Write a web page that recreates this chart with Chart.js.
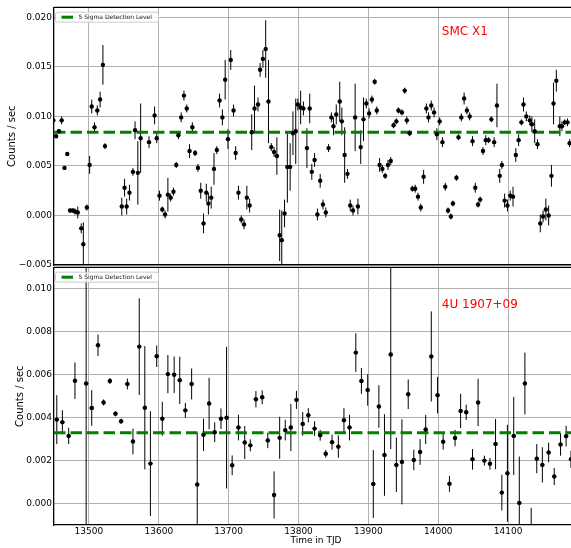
<!DOCTYPE html>
<html>
<head>
<meta charset="utf-8">
<script src="https://cdn.jsdelivr.net/npm/chart.js@4/dist/chart.umd.min.js"></script>
<style>
  html, body { margin: 0; padding: 0; background: #fff; overflow: hidden; }
  #wrap { position: relative; width: 571px; height: 548px; overflow: hidden; }
  canvas { position: absolute; left: 0; }
  #topChart { top: 0; }
  #botChart { top: 260px; }
</style>
</head>
<body>
<div id="wrap">
  <canvas id="topChart" width="600" height="280"></canvas>
  <canvas id="botChart" width="600" height="288"></canvas>
</div>
<script>
// --- データ ---
const xTicks = [13500, 13600, 13700, 13800, 13900, 14000, 14100];
const topYTicks = [-0.005, 0.000, 0.005, 0.010, 0.015, 0.020];
const botYTicks = [0.000, 0.002, 0.004, 0.006, 0.008, 0.010];

const topName = 'SMC X1';
const botName = '4U 1907+09';
const legendLabel = '5 Sigma Detection Level';
const topLevel = 0.0084;
const botLevel = 0.0033;

// SMC X1
const topTime = [13449,13453,13457,13461,13465,13469,13473,13477,13480,13484,13489,13492,13497,13501,13504,13508,13512,13516,13520,13523,
  13547,13551,13554,13558,13563,13566,13570,13574,13586,13594,13597,13601,13605,13609,13613,13617,13621,13625,13628,13632,
  13636,13640,13644,13648,13652,13656,13660,13664,13668,13671,13675,13679,13683,13687,13691,13695,13699,13703,13707,13710,
  13714,13718,13722,13726,13730,13733,13737,13742,13745,13749,13753,13757,13761,13765,13769,13773,13776,13780,13784,13788,
  13792,13796,13799,13803,13807,13812,13816,13819,13823,13827,13831,13835,13839,13843,13847,13850,13854,13859,13862,13866,
  13870,13874,13878,13881,13885,13889,13893,13897,13901,13905,13909,13912,13916,13920,13924,13928,13932,13936,13940,13943,
  13948,13952,13955,13959,13963,13967,13971,13975,13979,13983,13986,13990,13994,13998,14002,14006,14010,14014,14018,14021,
  14026,14029,14033,14037,14041,14045,14049,14053,14057,14060,14064,14068,14072,14076,14080,14084,14088,14091,14095,14099,
  14103,14107,14111,14115,14119,14122,14126,14131,14134,14138,14142,14146,14150,14154,14158,14162,14165,14169,14174,14177,
  14181,14185,14188];
const topRate = [0.0096,0.0080,0.0085,0.0096,0.0048,0.0062,0.0005,0.0005,0.0004,0.0003,-0.0013,-0.0029,0.0008,0.0051,0.0110,0.0089,0.0106,0.0117,0.0152,0.0070,
  0.0009,0.0028,0.0009,0.0023,0.0044,0.0086,0.0043,0.0078,0.0074,0.0101,0.0078,0.0020,0.0006,0.0001,0.0021,0.0018,0.0024,0.0051,0.0081,0.0099,
  0.0121,0.0108,0.0065,0.0089,0.0063,0.0048,0.0025,-0.0008,0.0023,0.0012,0.0018,0.0047,0.0066,0.0116,0.0099,0.0137,0.0077,0.0157,0.0106,0.0063,
  0.0023,-0.0004,-0.0009,0.0018,0.0010,0.0084,0.0108,0.0112,0.0147,0.0158,0.0168,0.0115,0.0069,0.0064,0.0060,-0.0020,-0.0025,0.0002,0.0049,0.0049,
  0.0083,0.0085,0.0112,0.0109,0.0108,0.0068,0.0108,0.0044,0.0056,0.0001,0.0035,0.0011,0.0003,0.0068,0.0099,0.0090,0.0102,0.0115,0.0095,0.0061,
  0.0042,0.0010,0.0005,0.0099,0.0009,0.0069,0.0097,0.0113,0.0103,0.0117,0.0135,0.0106,0.0051,0.0047,0.0040,0.0051,0.0055,0.0091,0.0095,0.0106,
  0.0104,0.0126,0.0096,0.0083,0.0027,0.0027,0.0019,0.0008,0.0039,0.0108,0.0099,0.0111,0.0104,0.0082,0.0095,0.0074,0.0029,0.0005,-0.0001,0.0012,
  0.0038,0.0079,0.0099,0.0118,0.0106,0.0100,0.0075,0.0028,0.0011,0.0016,0.0065,0.0076,0.0076,0.0097,0.0074,0.0111,0.0040,0.0051,0.0015,0.0010,
  0.0020,0.0019,0.0061,0.0076,0.0094,0.0112,0.0100,0.0096,0.0092,0.0085,0.0072,-0.0008,-0.0001,0.0006,0.0000,0.0040,0.0113,0.0136,0.0090,0.0090,
  0.0094,0.0094,0.0073];
const topErr = [0.0003,0.0002,0.0002,0.0004,0.0002,0.0002,0.0002,0.0002,0.0003,0.0006,0.0005,0.0022,0.0003,0.0009,0.0007,0.0005,0.0005,0.0008,0.0020,0.0003,
  0.0009,0.0009,0.0008,0.0008,0.0004,0.0009,0.0032,0.0035,0.0006,0.0009,0.0005,0.0005,0.0003,0.0004,0.0017,0.0004,0.0004,0.0003,0.0004,0.0005,
  0.0005,0.0004,0.0007,0.0005,0.0003,0.0004,0.0008,0.0010,0.0009,0.0011,0.0011,0.0016,0.0004,0.0007,0.0008,0.0020,0.0010,0.0010,0.0006,0.0007,
  0.0007,0.0004,0.0005,0.0012,0.0007,0.0018,0.0023,0.0007,0.0007,0.0009,0.0029,0.0042,0.0004,0.0005,0.0019,0.0026,0.0030,0.0014,0.0036,0.0024,
  0.0022,0.0033,0.0006,0.0017,0.0007,0.0020,0.0015,0.0008,0.0007,0.0006,0.0007,0.0005,0.0005,0.0004,0.0005,0.0009,0.0010,0.0020,0.0014,0.0028,
  0.0005,0.0006,0.0005,0.0034,0.0008,0.0017,0.0022,0.0005,0.0005,0.0004,0.0003,0.0004,0.0007,0.0004,0.0003,0.0005,0.0004,0.0003,0.0003,0.0003,
  0.0003,0.0003,0.0004,0.0003,0.0003,0.0004,0.0004,0.0004,0.0007,0.0005,0.0005,0.0005,0.0005,0.0006,0.0004,0.0005,0.0004,0.0003,0.0003,0.0003,
  0.0003,0.0003,0.0004,0.0006,0.0004,0.0004,0.0005,0.0005,0.0003,0.0003,0.0004,0.0005,0.0003,0.0003,0.0005,0.0022,0.0007,0.0004,0.0007,0.0006,
  0.0005,0.0010,0.0007,0.0006,0.0003,0.0007,0.0005,0.0005,0.0008,0.0012,0.0005,0.0009,0.0006,0.0011,0.0010,0.0011,0.0021,0.0011,0.0010,0.0005,
  0.0003,0.0004,0.0004];

// 4U 1907+09
const botTime = [13454,13462,13471,13480,13496,13504,13513,13521,13530,13538,13546,13555,13563,13572,13580,13588,13597,13605,13613,13622,
  13630,13638,13647,13655,13664,13672,13680,13689,13697,13705,13714,13723,13731,13739,13748,13756,13765,13773,13781,13789,
  13797,13806,13814,13823,13831,13839,13848,13857,13865,13873,13882,13890,13899,13907,13915,13923,13932,13940,13948,13957,
  13965,13974,13982,13990,13999,14007,14016,14024,14032,14040,14049,14057,14066,14074,14082,14091,14099,14108,14116,14124,
  14133,14141,14149,14158,14166,14175,14183,14190];
const botRate = [0.00391,0.00379,0.00315,0.00572,0.00559,0.00445,0.00737,0.00471,0.00571,0.00418,0.00383,0.00557,0.00289,0.00731,0.00446,0.00186,0.00686,0.00395,0.00603,0.00600,
  0.00574,0.00434,0.00557,0.00089,0.00320,0.00466,0.00332,0.00395,0.00400,0.00178,0.00354,0.00284,0.00271,0.00486,0.00495,0.00294,0.00040,0.00306,0.00342,0.00354,
  0.00483,0.00371,0.00411,0.00349,0.00318,0.00232,0.00286,0.00265,0.00388,0.00354,0.00703,0.00571,0.00529,0.00091,0.00452,0.00226,0.00694,0.00180,0.00194,0.00509,
  0.00203,0.00240,0.00345,0.00685,0.00505,0.00288,0.00092,0.00305,0.00431,0.00425,0.00206,0.00471,0.00200,0.00185,0.00277,0.00051,0.00141,0.00315,0.00003,0.00559,
  -0.00220,0.00209,0.00180,0.00238,0.00126,0.00275,0.00314,0.00206];
const botErr = [0.00114,0.00056,0.00038,0.00085,0.00750,0.00083,0.00050,0.00014,0.00014,0.00012,0.00012,0.00025,0.00060,0.00225,0.00287,0.00244,0.00050,0.00079,0.00089,0.00085,
  0.00110,0.00035,0.00072,0.00240,0.00075,0.00120,0.00046,0.00048,0.00330,0.00046,0.00060,0.00077,0.00028,0.00038,0.00032,0.00036,0.00110,0.00098,0.00048,0.00110,
  0.00042,0.00055,0.00033,0.00034,0.00025,0.00018,0.00035,0.00052,0.00056,0.00060,0.00090,0.00060,0.00073,0.00158,0.00099,0.00190,0.00440,0.00127,0.00198,0.00069,
  0.00048,0.00060,0.00068,0.00210,0.00085,0.00037,0.00037,0.00038,0.00080,0.00036,0.00048,0.00110,0.00023,0.00027,0.00117,0.00083,0.00226,0.00182,0.00216,0.00144,
  0.00200,0.00068,0.00082,0.00046,0.00040,0.00052,0.00048,0.00040];

const FONT = 'DejaVu Sans';
const green = '#008000';
const gridColor = '#b0b0b0';

function fmtY(v) {
  if (Math.abs(v) < 1e-12) v = 0;
  return v.toFixed(3).replace('-', '\u2212');
}

// エラーバー・枠・凡例・ラベル
const extras = {
  id: 'extras',
  beforeDatasetsDraw(chart) {
    const { ctx, chartArea: a, scales: { x, y } } = chart;
    ctx.save();
    ctx.beginPath();
    ctx.rect(a.left, a.top, a.right - a.left, a.bottom - a.top);
    ctx.clip();
    ctx.strokeStyle = '#000';
    ctx.lineWidth = 1;
    chart.data.datasets.forEach(ds => {
      if (!ds.err) return;
      ds.data.forEach((p, i) => {
        const px = x.getPixelForValue(p.x);
        const py = y.getPixelForValue(p.y);
        ctx.beginPath();
        ctx.moveTo(px, y.getPixelForValue(p.y - ds.err[i]));
        ctx.lineTo(px, y.getPixelForValue(p.y + ds.err[i]));
        ctx.moveTo(x.getPixelForValue(p.x - ds.xerr), py);
        ctx.lineTo(x.getPixelForValue(p.x + ds.xerr), py);
        ctx.stroke();
      });
    });
    ctx.restore();
  },
  afterDraw(chart) {
    const { ctx, chartArea: a, scales: { x, y } } = chart;
    const o = chart.options.plugins.extras;
    ctx.save();
    // 上と右の枠線
    ctx.strokeStyle = '#000';
    ctx.lineWidth = 1.3;
    ctx.beginPath();
    ctx.moveTo(a.left, a.top);
    ctx.lineTo(a.right, a.top);
    ctx.lineTo(a.right, a.bottom);
    ctx.stroke();

    // ソース名
    ctx.fillStyle = '#ff0000';
    ctx.font = '12px "' + FONT + '"';
    ctx.textBaseline = 'alphabetic';
    ctx.fillText(o.name, x.getPixelForValue(o.nameX), y.getPixelForValue(o.nameY));

    // 凡例
    const bx = a.left + 1, by = a.top + 4.3, bw = 103, bh = 10;
    ctx.fillStyle = 'rgba(255,255,255,0.8)';
    ctx.strokeStyle = '#cccccc';
    ctx.lineWidth = 1;
    ctx.beginPath();
    ctx.roundRect(bx + 0.5, by + 0.5, bw, bh, 2);
    ctx.fill();
    ctx.stroke();
    ctx.strokeStyle = green;
    ctx.lineWidth = 3;
    ctx.beginPath();
    ctx.moveTo(bx + 6.5, by + bh / 2 + 0.5);
    ctx.lineTo(bx + 18, by + bh / 2 + 0.5);
    ctx.stroke();
    ctx.fillStyle = '#222';
    ctx.font = '6px "' + FONT + '"';
    ctx.textBaseline = 'middle';
    ctx.fillText(legendLabel, bx + 23.5, by + bh / 2 + 0.5);
    ctx.restore();
  }
};

function makeChart(id, cfg) {
  const points = cfg.time.map((t, i) => ({ x: t, y: cfg.rate[i] }));
  return new Chart(document.getElementById(id), {
    type: 'scatter',
    data: {
      datasets: [
        {
          data: points,
          err: cfg.err,
          xerr: cfg.xerr,
          pointRadius: 2.2,
          pointHoverRadius: 2.2,
          pointBackgroundColor: '#000',
          pointBorderWidth: 0
        },
        {
          data: [{ x: 13450, y: cfg.level }, { x: 14200, y: cfg.level }],
          showLine: true,
          borderColor: green,
          borderWidth: 3,
          borderDash: [11.5, 5],
          pointRadius: 0,
          fill: false
        }
      ]
    },
    options: {
      responsive: false,
      animation: false,
      events: [],
      layout: { padding: { left: 0, top: 5, right: 22, bottom: cfg.padBottom } },
      plugins: {
        legend: { display: false },
        tooltip: { enabled: false },
        extras: { name: cfg.name, nameX: 14005, nameY: cfg.nameY }
      },
      scales: {
        x: {
          type: 'linear',
          min: 13450,
          max: 14200,
          afterBuildTicks: s => { s.ticks = xTicks.map(v => ({ value: v })); },
          afterFit: s => { s.height = cfg.showX ? 23 : 0; },
          grid: { color: gridColor, lineWidth: 1, drawTicks: false },
          border: { display: true, color: '#000', width: 1.3 },
          ticks: {
            display: cfg.showX,
            font: { family: FONT, size: 9 },
            color: '#000',
            padding: 1,
            maxRotation: 0,
            autoSkip: false,
            callback: v => String(v)
          },
          title: {
            display: cfg.showX,
            text: 'Time in TJD',
            font: { family: FONT, size: 9 },
            color: '#000',
            padding: { top: 0, bottom: 2.2 }
          }
        },
        y: {
          type: 'linear',
          min: cfg.yMin,
          max: cfg.yMax,
          afterBuildTicks: s => { s.ticks = cfg.yTicks.map(v => ({ value: v })); },
          afterFit: s => { s.width = 54; },
          grid: { color: gridColor, lineWidth: 1, drawTicks: false },
          border: { display: true, color: '#000', width: 1.3 },
          ticks: {
            font: { family: FONT, size: 9 },
            color: '#000',
            padding: 2,
            autoSkip: false,
            callback: v => fmtY(v)
          },
          title: {
            display: true,
            text: 'Counts / sec',
            font: { family: FONT, size: 10 },
            color: '#000',
            padding: { top: cfg.titlePad, bottom: 0 }
          }
        }
      }
    },
    plugins: [extras]
  });
}

makeChart('topChart', {
  time: topTime, rate: topRate, err: topErr, xerr: 1.5,
  level: topLevel, name: topName, nameY: 0.0182,
  yMin: -0.005, yMax: 0.021, yTicks: topYTicks,
  showX: false, padBottom: 15, titlePad: 6.3
});

makeChart('botChart', {
  time: botTime, rate: botRate, err: botErr, xerr: 3,
  level: botLevel, name: botName, nameY: 0.0091,
  yMin: -0.001, yMax: 0.011, yTicks: botYTicks,
  showX: true, padBottom: 0, titlePad: 14
});
</script>
</body>
</html>
